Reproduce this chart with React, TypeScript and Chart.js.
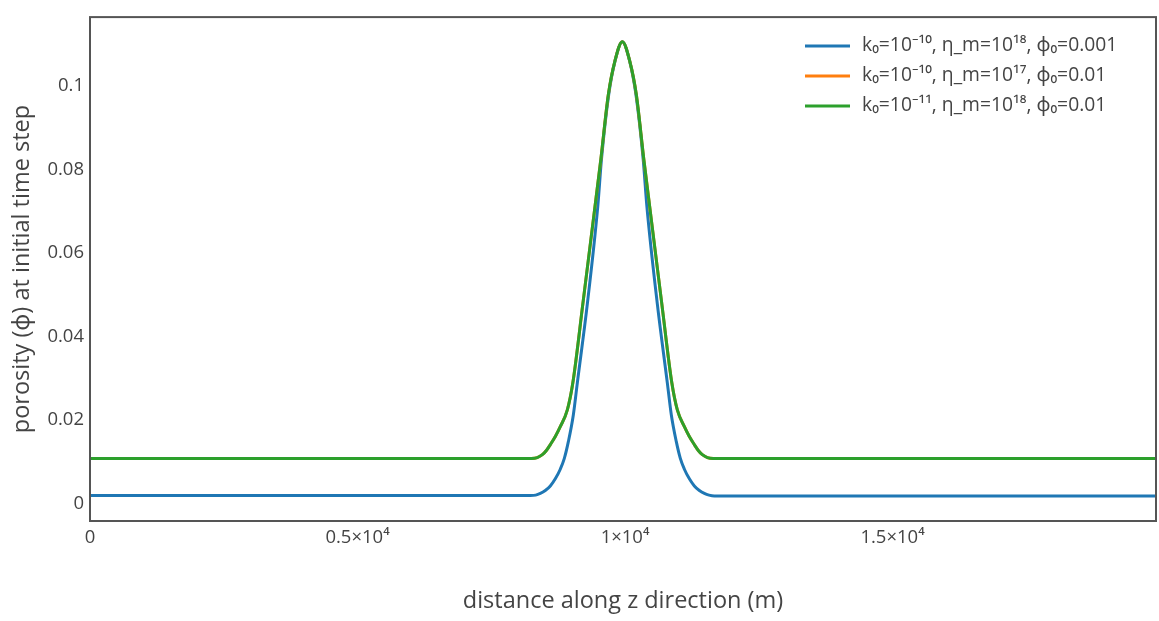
import React, { useEffect, useRef } from "react";
import { Chart, registerables } from "chart.js";

Chart.register(...registerables);

// distance along z (m) and porosity values
const blueX = [0, 4000, 8230, 8330, 8417, 8510, 8604, 8697, 8790, 8866, 8941, 9034, 9109, 9296, 9492, 9560, 9695, 9812, 9950, 10088, 10205, 10340, 10408, 10604, 10791, 10866, 10959, 11034, 11110, 11203, 11296, 11390, 11483, 11570, 11670, 16000, 19925];
const blueY = [0.0019, 0.0019, 0.0019, 0.002, 0.0024, 0.0031, 0.0042, 0.0059, 0.0082, 0.0108, 0.0148, 0.0212, 0.0289, 0.0478, 0.0713, 0.0824, 0.0979, 0.1059, 0.1106, 0.1059, 0.0979, 0.0824, 0.0713, 0.0478, 0.0289, 0.0212, 0.0148, 0.0108, 0.0082, 0.0059, 0.0042, 0.0031, 0.0024, 0.002, 0.0018, 0.0018, 0.0018];

const orangeX = [0, 4000, 8250, 8360, 8455, 8530, 8604, 8700, 8790, 8922, 9025, 9212, 9417, 9548, 9688, 9810, 9950, 10090, 10212, 10352, 10483, 10688, 10875, 10978, 11110, 11200, 11296, 11370, 11445, 11540, 11650, 16000, 19925];
const orangeY = [0.0108, 0.0108, 0.0108, 0.011, 0.0117, 0.0127, 0.0141, 0.0161, 0.0184, 0.0224, 0.0289, 0.0478, 0.0689, 0.0824, 0.0979, 0.1059, 0.1106, 0.1059, 0.0979, 0.0824, 0.0689, 0.0478, 0.0289, 0.0224, 0.0184, 0.0161, 0.0141, 0.0127, 0.0117, 0.011, 0.0108, 0.0108, 0.0108];

const greenX = [0, 4000, 8250, 8360, 8455, 8530, 8604, 8700, 8790, 8922, 9025, 9212, 9417, 9548, 9688, 9810, 9950, 10090, 10212, 10352, 10483, 10688, 10875, 10978, 11110, 11200, 11296, 11370, 11445, 11540, 11650, 16000, 19925];
const greenY = [0.0108, 0.0108, 0.0108, 0.011, 0.0117, 0.0127, 0.0141, 0.0161, 0.0184, 0.0224, 0.0289, 0.0478, 0.0689, 0.0824, 0.0979, 0.1059, 0.1106, 0.1059, 0.0979, 0.0824, 0.0689, 0.0478, 0.0289, 0.0224, 0.0184, 0.0161, 0.0141, 0.0127, 0.0117, 0.011, 0.0108, 0.0108, 0.0108];

const seriesLabels = [
  "k\u2080=10\u207B\u00B9\u2070, \u03B7_m=10\u00B9\u2078, \u03D5\u2080=0.001",
  "k\u2080=10\u207B\u00B9\u2070, \u03B7_m=10\u00B9\u2077, \u03D5\u2080=0.01",
  "k\u2080=10\u207B\u00B9\u00B9, \u03B7_m=10\u00B9\u2078, \u03D5\u2080=0.01",
];
const seriesColors = ["#1f77b4", "#ff7f0e", "#2ca02c"];
const seriesOrder = [2, 1, 0];

const xTickValues = [0, 5000, 10000, 15000];
const xTickLabels = ["0", "0.5\u00D710\u2074", "1\u00D710\u2074", "1.5\u00D710\u2074"];
const yTickValues = [0, 0.02, 0.04, 0.06, 0.08, 0.1];
const yTickLabels = ["0", "0.02", "0.04", "0.06", "0.08", "0.1"];

const xTitle = "distance along z direction (m)";
const yTitle = "porosity (\u03D5) at initial time step";

const FONT = "'Open Sans', 'Noto Sans', sans-serif";
const TEXT = "#444444";

const zip = (xs: number[], ys: number[]) => xs.map((x, i) => ({ x, y: ys[i] }));

const overlay = {
  id: "overlay",
  afterDraw(chart: any) {
    const ctx = chart.ctx;
    const a = chart.chartArea;
    ctx.save();
    ctx.strokeStyle = "#555555";
    ctx.lineWidth = 2;
    ctx.strokeRect(a.left, a.top, a.right - a.left, a.bottom - a.top);

    // legend
    ctx.font = `19.3px ${FONT}`;
    ctx.textBaseline = "middle";
    ctx.textAlign = "left";
    chart.data.datasets.forEach((ds: any, i: number) => {
      const y = 46 + 30 * i;
      ctx.strokeStyle = ds.borderColor;
      ctx.lineWidth = 3;
      ctx.beginPath();
      ctx.moveTo(805, y);
      ctx.lineTo(850, y);
      ctx.stroke();
      ctx.fillStyle = TEXT;
      ctx.fillText(ds.label, 862, y);
    });

    // titles
    ctx.font = `23.5px ${FONT}`;
    ctx.fillStyle = TEXT;
    ctx.textAlign = "center";
    ctx.textBaseline = "middle";
    ctx.fillText(xTitle, (a.left + a.right) / 2, 601);
    ctx.translate(22, (a.top + a.bottom) / 2);
    ctx.rotate(-Math.PI / 2);
    ctx.fillText(yTitle, 0, 0);
    ctx.restore();
  },
};

export default function App() {
  const ref = useRef<HTMLCanvasElement>(null);
  useEffect(() => {
    if (!ref.current) return;
    const chart = new Chart(ref.current, {
      type: "line",
      data: {
        datasets: [
          { label: seriesLabels[0], data: zip(blueX, blueY), borderColor: seriesColors[0], order: seriesOrder[0] },
          { label: seriesLabels[1], data: zip(orangeX, orangeY), borderColor: seriesColors[1], order: seriesOrder[1] },
          { label: seriesLabels[2], data: zip(greenX, greenY), borderColor: seriesColors[2], order: seriesOrder[2] },
        ].map((d) => ({
          ...d,
          borderWidth: 3,
          pointRadius: 0,
          fill: false,
          cubicInterpolationMode: "monotone" as const,
        })),
      },
      options: {
        animation: false,
        responsive: false,
        maintainAspectRatio: false,
        layout: { padding: { left: 0, right: 3, top: 8, bottom: 0 } },
        plugins: { legend: { display: false }, tooltip: { enabled: false } },
        scales: {
          x: {
            type: "linear",
            min: 0,
            max: 19925,
            grid: { display: false, drawTicks: false },
            border: { display: false },
            afterBuildTicks: (s: any) => {
              s.ticks = xTickValues.map((v) => ({ value: v }));
            },
            afterFit: (s: any) => {
              s.height = 100;
            },
            ticks: {
              padding: 6,
              maxRotation: 0,
              autoSkip: false,
              color: TEXT,
              font: { family: FONT, size: 18.5 },
              callback: (v: any) => {
                const i = xTickValues.indexOf(Number(v));
                return i >= 0 ? xTickLabels[i] : "";
              },
            },
          },
          y: {
            type: "linear",
            min: -0.0042,
            max: 0.1165,
            grid: { display: false, drawTicks: false },
            border: { display: false },
            afterBuildTicks: (s: any) => {
              s.ticks = yTickValues.map((v) => ({ value: v }));
            },
            afterFit: (s: any) => {
              s.width = 90;
            },
            ticks: {
              padding: 6,
              autoSkip: false,
              color: TEXT,
              font: { family: FONT, size: 18.5 },
              callback: (v: any) => {
                const i = yTickValues.findIndex((t) => Math.abs(t - Number(v)) < 1e-9);
                return i >= 0 ? yTickLabels[i] : "";
              },
            },
          },
        },
      },
      plugins: [overlay],
    });
    return () => chart.destroy();
  }, []);
  return (
    <div style={{ position: "fixed", left: 0, top: 0, width: 1159, height: 621, background: "#fff" }}>
      <canvas ref={ref} width={1159} height={621} style={{ width: 1159, height: 621, display: "block" }} />
    </div>
  );
}
